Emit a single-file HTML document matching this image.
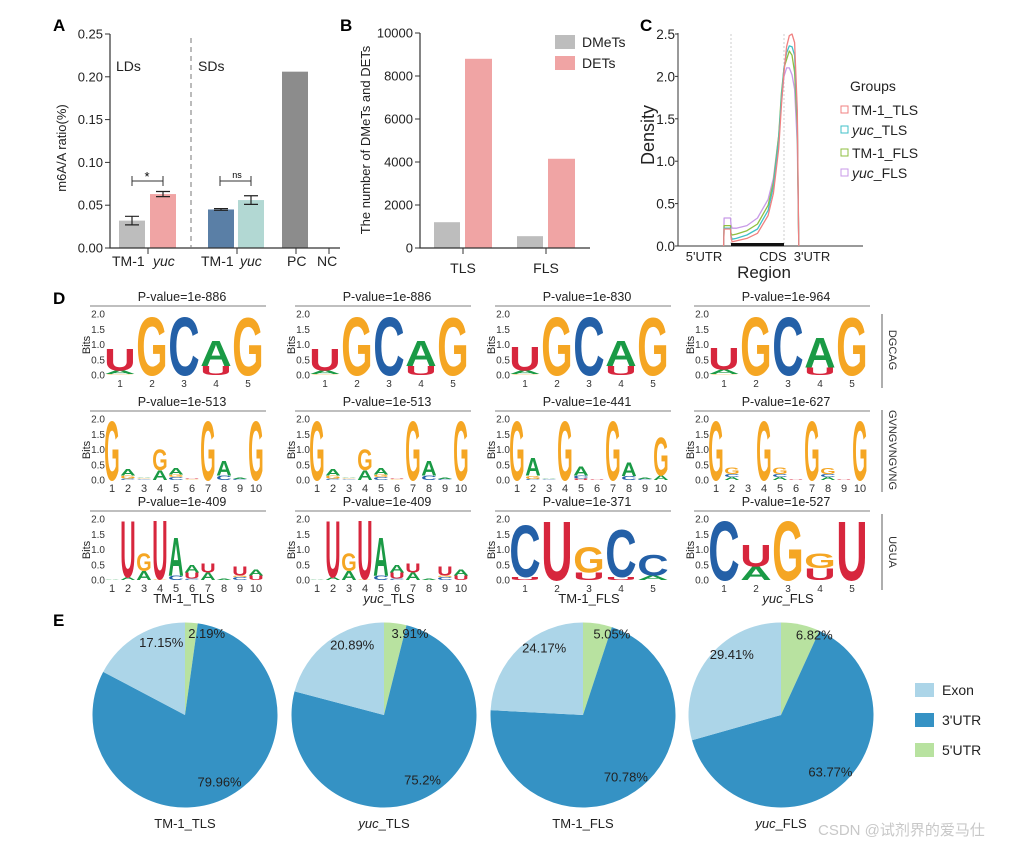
<!DOCTYPE html>
<html><head><meta charset="utf-8"><style>
body{margin:0;background:#fff}
svg{display:block;font-family:"Liberation Sans",Arial,sans-serif}
</style></head><body>
<svg id="fig" width="1031" height="847" viewBox="0 0 1031 847" xmlns="http://www.w3.org/2000/svg"></svg>
<script>
// ---------- DATA ----------
// Panel A
const aCategories = ["LD TM-1","LD yuc","SD TM-1","SD yuc","PC","NC"];
const aValues = [0.032,0.063,0.045,0.056,0.206,0];
const aErrors = [0.005,0.003,0.001,0.005,0,0];
const aTicks = [0,0.05,0.10,0.15,0.20,0.25];
const aTickLabels = ["0.00","0.05","0.10","0.15","0.20","0.25"];
// Panel B
const bGroups = ["TLS","FLS"];
const bDMeTs = [1200,550];
const bDETs = [8800,4150];
const bTicks = [0,2000,4000,6000,8000,10000];
// Panel C
const cSeries = ["TM-1_TLS","yuc_TLS","TM-1_FLS","yuc_FLS"];
const cRegionPos = [0.86,0.87,0.99,1.0,1.02,1.1,1.3,1.5,1.7,1.8,1.9,1.95,2.0,2.05,2.1,2.15,2.2,2.25,2.27,2.28];
const cTM1TLS = [0,0.2,0.2,0.1,0.05,0.06,0.09,0.15,0.36,0.62,1.15,1.65,2.05,2.35,2.48,2.5,2.4,1.6,0.5,0];
const cYucTLS = [0,0.21,0.21,0.12,0.08,0.09,0.13,0.2,0.42,0.7,1.25,1.75,2.1,2.28,2.36,2.35,2.25,1.5,0.45,0];
const cTM1FLS = [0,0.24,0.24,0.15,0.13,0.14,0.18,0.26,0.48,0.75,1.3,1.8,2.1,2.2,2.3,2.25,2.05,1.4,0.4,0];
const cYucFLS = [0,0.33,0.33,0.25,0.21,0.21,0.24,0.33,0.55,0.8,1.3,1.7,2.0,2.1,2.1,2.02,1.85,1.2,0.35,0];
const cTicks = [0,0.5,1.0,1.5,2.0,2.5];
// Panel D
const dPvalues = [["1e-886","1e-886","1e-830","1e-964"],["1e-513","1e-513","1e-441","1e-627"],["1e-409","1e-409","1e-371","1e-527"]];
const dMotifNames = ["DGCAG","GVNGVNGVNG","UGUA"];
const dSamples = ["TM-1_TLS","yuc_TLS","TM-1_FLS","yuc_FLS"];
const logoDGCAG1 = [[["G",0.03],["A",0.12],["U",0.75]],[["G",1.98]],[["C",1.98]],[["U",0.3],["A",0.85]],[["G",1.95]]];
const logoDGCAG3 = [[["G",0.03],["A",0.12],["U",0.8]],[["G",1.98]],[["C",1.98]],[["U",0.3],["A",0.85]],[["G",1.95]]];
const logoDGCAG4 = [[["G",0.03],["A",0.15],["U",0.75]],[["G",1.98]],[["C",1.98]],[["U",0.25],["A",1.0]],[["G",1.95]]];
const logoGVNG1 = [[["G",2.0]],[["C",0.05],["G",0.1],["A",0.22]],[["C",0.03],["G",0.03],["A",0.03]],[["A",0.32],["G",0.7]],[["C",0.1],["G",0.08],["A",0.22]],[["G",0.03],["U",0.03]],[["G",2.0]],[["C",0.15],["A",0.5]],[["C",0.04],["A",0.04]],[["G",2.0]]];
const logoGVNG3 = [[["G",2.0]],[["C",0.04],["G",0.1],["A",0.6]],[["C",0.03],["A",0.03]],[["G",2.0]],[["U",0.05],["C",0.1],["A",0.3]],[["U",0.03]],[["G",2.0]],[["C",0.13],["A",0.45]],[["C",0.04],["A",0.05]],[["A",0.15],["G",1.3]]];
const logoGVNG4 = [[["G",2.0]],[["A",0.1],["C",0.1],["G",0.22]],[],[["G",2.0]],[["A",0.1],["C",0.1],["G",0.22]],[["U",0.02]],[["G",2.0]],[["A",0.1],["C",0.1],["G",0.2]],[["U",0.02]],[["G",2.0]]];
const logoUGUA1 = [[["A",0.02]],[["A",0.1],["U",1.9]],[["A",0.3],["G",0.6]],[["G",0.03],["U",2.0]],[["C",0.15],["A",1.3]],[["C",0.05],["U",0.2],["A",0.25]],[["A",0.25],["U",0.3]],[["A",0.05]],[["C",0.1],["G",0.05],["U",0.3]],[["U",0.15],["A",0.2]]];
const logoCUGCC = [[["U",0.1],["C",1.75]],[["U",2.0]],[["U",0.25],["G",0.85]],[["U",0.1],["C",1.6]],[["A",0.15],["C",0.7]]];
const logoCUGGU = [[["C",2.0]],[["A",0.45],["U",0.75]],[["G",2.0]],[["U",0.4],["G",0.5]],[["U",2.0]]];
const dLogos = [[logoDGCAG1,logoDGCAG1,logoDGCAG3,logoDGCAG4],[logoGVNG1,logoGVNG1,logoGVNG3,logoGVNG4],[logoUGUA1,logoUGUA1,logoCUGCC,logoCUGGU]];
// Panel E
const eSamples = ["TM-1_TLS","yuc_TLS","TM-1_FLS","yuc_FLS"];
const e5UTR = [2.19,3.91,5.05,6.82];
const e3UTR = [79.96,75.2,70.78,63.77];
const eExon = [17.15,20.89,24.17,29.41];
const e5Labels = ["2.19%","3.91%","5.05%","6.82%"];
const e3Labels = ["79.96%","75.2%","70.78%","63.77%"];
const eExonLabels = ["17.15%","20.89%","24.17%","29.41%"];

// ---------- HELPERS ----------
const NS="http://www.w3.org/2000/svg";
const svg=document.getElementById('fig');
function mk(tag,attrs,parent,txt){const e=document.createElementNS(NS,tag);for(const k in attrs)e.setAttribute(k,attrs[k]);if(txt!==undefined)e.textContent=txt;(parent||svg).appendChild(e);return e;}
function grp(name){const g=mk('g',{});return g;}

[["A",53,31],["B",340,31],["C",640,31],["D",53,304],["E",53,626]].forEach(p=>{
  const t=mk('text',{x:p[1],y:p[2],'font-size':17,'font-weight':'bold'},svg,p[0]);
  
  
});

// ---------- PANEL A ----------
(function(){
  const g=grp('panel-a-chart');
  const X0=110,Y0=248,Y1=34;
  const ay=v=>Y0-(v/0.25)*(Y0-Y1);
  const barX=[119,150,208,238,282,316];
  const colors=["#bdbdbd","#f0a4a4","#5a7fa6","#b2d8d3","#8c8c8c","#8c8c8c"];
  aValues.forEach((v,i)=>{
    const r=mk('rect',{x:barX[i],y:ay(v),width:26,height:Y0-ay(v),fill:colors[i]},g);
    
    
    if(aErrors[i]>0){
      const cx=barX[i]+13;
      mk('path',{d:`M${cx} ${ay(v+aErrors[i])}V${ay(v-aErrors[i])}M${cx-7} ${ay(v+aErrors[i])}H${cx+7}M${cx-7} ${ay(v-aErrors[i])}H${cx+7}`,stroke:'#222','stroke-width':1.2,fill:'none'},g);
    }
  });
  mk('path',{d:`M${X0} ${Y1}V${Y0}H340`,stroke:'#333','stroke-width':1.2,fill:'none'},g);
  aTicks.forEach((t,i)=>{
    mk('line',{x1:X0-5,x2:X0,y1:ay(t),y2:ay(t),stroke:'#333'},g);
    mk('text',{x:X0-7,y:ay(t)+4.5,'font-size':13,'text-anchor':'end',fill:'#222'},g,aTickLabels[i]);
  });
  [148,237,296,329].forEach(x=>mk('line',{x1:x,x2:x,y1:Y0,y2:Y0+6,stroke:'#333'},g));
  mk('line',{x1:191,x2:191,y1:38,y2:248,stroke:'#777','stroke-dasharray':'5,4'},g);
  [["TM-1",112,false],["yuc",153,true],["TM-1",201,false],["yuc",240,true],["PC",287,false],["NC",317,false]].forEach(l=>{
    mk('text',{x:l[1],y:266,'font-size':14,'font-style':l[2]?'italic':'normal',fill:'#222'},g,l[0]);
  });
  mk('text',{x:116,y:71,'font-size':14,fill:'#222'},g,'LDs');
  mk('text',{x:198,y:71,'font-size':14,fill:'#222'},g,'SDs');
  const yl=mk('text',{x:0,y:0,'font-size':13,'text-anchor':'middle',transform:'translate(66,148) rotate(-90)',fill:'#222'},g,'m6A/A ratio(%)');
  
  mk('path',{d:`M132 176V186M132 181H163M163 176V186`,stroke:'#333',fill:'none'},g);
  mk('text',{x:147,y:181,'font-size':13,'text-anchor':'middle'},g,'*');
  mk('path',{d:`M220 176V186M220 181H251M251 176V186`,stroke:'#333',fill:'none'},g);
  mk('text',{x:237,y:178,'font-size':9,'text-anchor':'middle'},g,'ns');
})();

// ---------- PANEL B ----------
(function(){
  const g=grp('panel-b-chart');
  const X0=420,Y0=248,Y1=33;
  const by=v=>Y0-(v/10000)*(Y0-Y1);
  const gx=[434,517];
  bGroups.forEach((name,i)=>{
    const r1=mk('rect',{x:gx[i],y:by(bDMeTs[i]),width:26,height:Y0-by(bDMeTs[i]),fill:'#bdbdbd'},g);
    
    const r2=mk('rect',{x:gx[i]+31,y:by(bDETs[i]),width:27,height:Y0-by(bDETs[i]),fill:'#f0a4a4'},g);
    
    mk('line',{x1:gx[i]+29,x2:gx[i]+29,y1:Y0,y2:Y0+6,stroke:'#333'},g);
    mk('text',{x:gx[i]+29,y:273,'font-size':14,'text-anchor':'middle',fill:'#222'},g,name);
  });
  mk('path',{d:`M${X0} ${Y1}V${Y0}H590`,stroke:'#333','stroke-width':1.2,fill:'none'},g);
  bTicks.forEach(t=>{
    mk('line',{x1:X0-5,x2:X0,y1:by(t),y2:by(t),stroke:'#333'},g);
    mk('text',{x:X0-7,y:by(t)+4.5,'font-size':13,'text-anchor':'end',fill:'#222'},g,String(t));
  });
  const yl=mk('text',{x:0,y:0,'font-size':13,'text-anchor':'middle',transform:'translate(370,140) rotate(-90)',fill:'#222'},g,'The number of DMeTs and DETs');
  
  const l1=mk('rect',{x:555,y:35,width:20,height:14,fill:'#bdbdbd'},g);
  
  mk('text',{x:582,y:47,'font-size':14,fill:'#222'},g,'DMeTs');
  const l2=mk('rect',{x:555,y:56,width:20,height:14,fill:'#f0a4a4'},g);
  
  mk('text',{x:582,y:68,'font-size':14,fill:'#222'},g,'DETs');
})();

// ---------- PANEL C ----------
(function(){
  const g=grp('panel-c-chart');
  const X0=678,Y0=246;
  const cx=r=>678+r*53;
  const cy=v=>Y0-v*84.8;
  mk('path',{d:`M${X0} 33V${Y0}H863`,stroke:'#333','stroke-width':1,fill:'none'},g);
  cTicks.forEach(t=>{
    mk('line',{x1:X0-3,x2:X0,y1:cy(t),y2:cy(t),stroke:'#333'},g);
    mk('text',{x:X0-3,y:cy(t)+5,'font-size':13.5,'text-anchor':'end',fill:'#222'},g,t.toFixed(1));
  });
  [1,2].forEach(r=>mk('line',{x1:cx(r),x2:cx(r),y1:34,y2:Y0,stroke:'#ccc','stroke-dasharray':'2,2'},g));
  mk('line',{x1:cx(1),x2:cx(2),y1:Y0-1.5,y2:Y0-1.5,stroke:'#111','stroke-width':3},g);
  const cols=["#f08080","#40c0c8","#8fbf40","#c89ae8"];
  const data=[cTM1TLS,cYucTLS,cTM1FLS,cYucFLS];
  [3,2,1,0].forEach(s=>{
    const d=cRegionPos.map((r,i)=>(i?'L':'M')+cx(r).toFixed(1)+' '+cy(data[s][i]).toFixed(1)).join('');
    const p=mk('path',{d:d,stroke:cols[s],'stroke-width':1.3,fill:'none','stroke-linejoin':'round'},g);
    
    
  });
  mk('text',{x:704,y:261,'font-size':13,'text-anchor':'middle',fill:'#222'},g,"5'UTR");
  mk('text',{x:773,y:261,'font-size':13,'text-anchor':'middle',fill:'#222'},g,"CDS");
  mk('text',{x:812,y:261,'font-size':13,'text-anchor':'middle',fill:'#222'},g,"3'UTR");
  mk('text',{x:764,y:278,'font-size':17,'text-anchor':'middle',fill:'#222'},g,"Region");
  mk('text',{x:0,y:0,'font-size':18,'text-anchor':'middle',transform:'translate(654,135) rotate(-90)',fill:'#222'},g,"Density");
  mk('text',{x:850,y:91,'font-size':14,fill:'#222'},g,"Groups");
  const ly=[115,135,158,178];
  cSeries.forEach((s,i)=>{
    const r=mk('rect',{x:841,y:ly[i]-9,width:7,height:7,fill:'none',stroke:cols[i],'stroke-width':1},g);
    
    const t=mk('text',{x:852,y:ly[i],'font-size':14,fill:'#222'},g);
    const parts=s.split('_');
    if(parts[0]==='yuc'){mk('tspan',{'font-style':'italic'},t,'yuc');mk('tspan',{},t,'_'+parts[1]);}
    else t.textContent=s;
  });
})();

// ---------- PANEL D ----------
(function(){
  const g=grp('panel-d-logos');
  const colors={A:"#1a9a45",C:"#2460a7",G:"#f5a623",U:"#d7263d"};
  const colOff=[0,205,405,604];
  const rowY0=[375,480,580];
  const ppb=30.5;
  dLogos.forEach((row,ri)=>{
    row.forEach((logo,ci)=>{
      const lg=mk('g',{},g);
      
      
      const sx=104+colOff[ci], y0=rowY0[ri];
      const n=logo.length, cw=160/n;
      mk('text',{x:sx+78,y:y0-74,'font-size':12.5,'text-anchor':'middle',fill:'#222'},lg,'P-value='+dPvalues[ri][ci]);
      mk('line',{x1:sx-14,x2:sx+162,y1:y0-69,y2:y0-69,stroke:'#999','stroke-width':1.2},lg);
      [0,0.5,1,1.5,2].forEach(b=>mk('text',{x:sx+1,y:y0-b*ppb+3.5,'font-size':10,'text-anchor':'end',fill:'#333'},lg,b.toFixed(1)));
      mk('text',{x:0,y:0,'font-size':11,'text-anchor':'middle',transform:`translate(${sx-14},${y0-30}) rotate(-90)`,fill:'#222'},lg,'Bits');
      logo.forEach((col,pi)=>{
        let yb=y0;
        const x=sx+pi*cw+0.3;
        col.forEach(([L,h])=>{
          const hp=h*ppb;
          if(hp<0.3){return;}
          mk('text',{x:0,y:0,'font-size':10,'font-weight':'bold',textLength:cw-0.6,lengthAdjust:'spacingAndGlyphs',fill:colors[L],
            transform:`translate(${x.toFixed(1)},${yb.toFixed(1)}) scale(1,${(hp/7.2).toFixed(3)})`},lg,L);
          yb-=hp;
        });
        mk('text',{x:sx+pi*cw+cw/2,y:y0+12,'font-size':n>5?11:10,'text-anchor':'middle',fill:'#333'},lg,String(pi+1));
      });
    });
  });
  dSamples.forEach((s,ci)=>{
    const t=mk('text',{x:184+colOff[ci],y:603,'font-size':13,'text-anchor':'middle',fill:'#222'},g);
    const parts=s.split('_');
    if(parts[0]==='yuc'){mk('tspan',{'font-style':'italic'},t,'yuc');mk('tspan',{},t,'_'+parts[1]);}
    else t.textContent=s;
  });
  const my=[[314,388,350],[410,492,450],[514,590,552]];
  dMotifNames.forEach((m,i)=>{
    mk('line',{x1:882,x2:882,y1:my[i][0],y2:my[i][1],stroke:'#777','stroke-width':1.2},g);
    mk('text',{x:0,y:0,'font-size':11,'text-anchor':'middle',transform:`translate(889,${my[i][2]}) rotate(90)`,fill:'#333'},g,m);
  });
})();

// ---------- PANEL E ----------
(function(){
  const g=grp('panel-e-pies');
  const centers=[185,384,583,781], CY=715, R=92.5;
  const col5="#b8e2a0", col3="#3592c4", colEx="#acd5e8";
  const pt=(cx,a,r)=>[cx+r*Math.sin(a),CY-r*Math.cos(a)];
  function slice(cx,a0,a1,fill,name){
    const p0=pt(cx,a0,R),p1=pt(cx,a1,R);
    const large=(a1-a0)>Math.PI?1:0;
    const p=mk('path',{d:`M${cx} ${CY}L${p0[0]} ${p0[1]}A${R} ${R} 0 ${large} 1 ${p1[0]} ${p1[1]}Z`,fill:fill},g);
    
  }
  eSamples.forEach((s,i)=>{
    const tot=e5UTR[i]+e3UTR[i]+eExon[i];
    const a1=e5UTR[i]/tot*2*Math.PI, a2=a1+e3UTR[i]/tot*2*Math.PI;
    const cx=centers[i], key=s.toLowerCase().replace(/_/g,'-');
    slice(cx,0,a1,col5,'slice-5utr-'+key);
    slice(cx,a1,a2,col3,'slice-3utr-'+key);
    slice(cx,a2,2*Math.PI,colEx,'slice-exon-'+key);
    let p=pt(cx,a1/2,R*0.88);
    mk('text',{x:p[0]+16,y:p[1]+4,'font-size':13,'text-anchor':'middle',fill:'#222'},g,e5Labels[i]);
    p=pt(cx,(a1+a2)/2,R*0.82);
    mk('text',{x:p[0],y:p[1]+4,'font-size':13,'text-anchor':'middle',fill:'#222'},g,e3Labels[i]);
    p=pt(cx,(a2+2*Math.PI)/2+0.3,R*0.8);
    mk('text',{x:p[0]-6,y:p[1]+4,'font-size':13,'text-anchor':'middle',fill:'#222'},g,eExonLabels[i]);
    const t=mk('text',{x:cx,y:828,'font-size':13,'text-anchor':'middle',fill:'#222'},g);
    const parts=s.split('_');
    if(parts[0]==='yuc'){mk('tspan',{'font-style':'italic'},t,'yuc');mk('tspan',{},t,'_'+parts[1]);}
    else t.textContent=s;
  });
  [["Exon",colEx,683],["3'UTR",col3,713],["5'UTR",col5,743]].forEach(l=>{
    const r=mk('rect',{x:915,y:l[2],width:19,height:14,fill:l[1]},g);
    
    mk('text',{x:942,y:l[2]+12,'font-size':14,fill:'#222'},g,l[0]);
  });
})();
const wm=mk('text',{x:818,y:835,'font-size':15,fill:'#c8c8c8','font-family':'"Liberation Sans","Noto Sans CJK SC",sans-serif'},svg,'CSDN @试剂界的爱马仕');

</script>
</body></html>
